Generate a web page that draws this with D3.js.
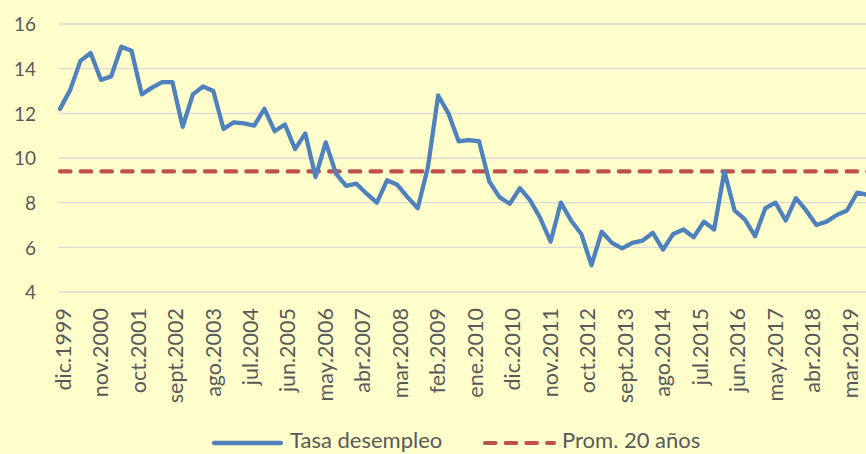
<!DOCTYPE html>
<html>
<head>
<meta charset="utf-8">
<script src="https://cdn.jsdelivr.net/npm/d3@7"></script>
<style>
  body { margin: 0; background: #FFFFCC; }
  svg { display: block; }
</style>
</head>
<body>
<div id="chart"></div>
<script>
// tasa de desempleo trimestral, desde dic.1999 (cada 3 meses)
var tasaDesempleo = [
  12.2, 13.05, 14.35, 14.7, 13.5, 13.65, 14.98, 14.8, 12.85, 13.15,
  13.4, 13.4, 11.4, 12.85, 13.2, 13.0, 11.3, 11.6, 11.55, 11.45,
  12.2, 11.2, 11.5, 10.4, 11.1, 9.15, 10.7, 9.3, 8.75, 8.85,
  8.4, 8.0, 9.0, 8.8, 8.25, 7.75, 9.6, 12.8, 12.0, 10.75,
  10.8, 10.75, 8.95, 8.25, 7.95, 8.65, 8.1, 7.3, 6.25, 8.0,
  7.2, 6.6, 5.2, 6.7, 6.2, 5.95, 6.2, 6.3, 6.65, 5.9,
  6.6, 6.8, 6.45, 7.15, 6.8, 9.4, 7.65, 7.25, 6.5, 7.75,
  8.0, 7.2, 8.2, 7.65, 7.0, 7.15, 7.45, 7.65, 8.45, 8.35
];
var promedio20 = 9.4;

// etiquetas del eje x (una cada 11 meses)
var tickLabels = [
  "dic.1999", "nov.2000", "oct.2001", "sept.2002", "ago.2003", "jul.2004",
  "jun.2005", "may.2006", "abr.2007", "mar.2008", "feb.2009", "ene.2010",
  "dic.2010", "nov.2011", "oct.2012", "sept.2013", "ago.2014", "jul.2015",
  "jun.2016", "may.2017", "abr.2018", "mar.2019"
];
var yTicks = [4, 6, 8, 10, 12, 14, 16];
var seriesNames = ["Tasa desempleo", "Prom. 20 años"];

const width = 866
const height = 454
const font = "Lato, 'DejaVu Sans', sans-serif"

const svg = d3.select("#chart")
  .append("svg")
  .attr("width", width)
  .attr("height", height)

svg.append("rect")
  .attr("width", width)
  .attr("height", height)
  .attr("fill", "#FFFFCC")

// eje x en meses desde dic.1999
const pxPerMonth = 3.407
const x = d3.scaleLinear()
  .domain([0, 240])
  .range([60, 60 + 240 * pxPerMonth])

const y = d3.scaleLinear()
  .domain([4, 16])
  .range([292, 24])

// grid lines
svg.append("g")
  .selectAll("line")
  .data(yTicks)
  .join("line")
  .attr("x1", x(0) - 1.5)
  .attr("x2", width)
  .attr("y1", d => y(d))
  .attr("y2", d => y(d))
  .attr("stroke", "#D9D9D9")
  .attr("stroke-width", 1.4)

// y axis
const yAxis = svg.append("g")
  .attr("transform", `translate(${x(0) - 24},0)`)
  .call(d3.axisLeft(y).tickValues(yTicks).tickSize(0).tickPadding(0))
yAxis.select(".domain").remove()
yAxis.selectAll("text")
  .attr("font-family", font)
  .attr("font-size", 19)
  .attr("fill", "#595959")
  .attr("dy", "0.36em")

// x axis
const xAxis = svg.append("g")
  .attr("transform", `translate(0,${y(4)})`)
  .call(d3.axisBottom(x)
    .tickValues(tickLabels.map((d, i) => i * 11))
    .tickFormat((d, i) => tickLabels[i])
    .tickSize(0))
xAxis.select(".domain").remove()
xAxis.selectAll("text")
  .attr("font-family", font)
  .attr("font-size", 21.5)
  .attr("fill", "#595959")
  .attr("text-anchor", "end")
  .attr("y", 0)
  .attr("dy", "0.47em")
  .attr("transform", "translate(0,16) rotate(-90)")

// average line
svg.append("line")
  .attr("x1", x(0))
  .attr("x2", width + 10)
  .attr("y1", y(promedio20))
  .attr("y2", y(promedio20))
  .attr("stroke", "#C0504D")
  .attr("stroke-width", 4.2)
  .attr("stroke-linecap", "round")
  .attr("stroke-dasharray", "10.5 10.2")

// main series
const line = d3.line()
  .x((d, i) => x(i * 3))
  .y(d => y(d))

svg.append("path")
  .datum(tasaDesempleo)
  .attr("d", line)
  .attr("fill", "none")
  .attr("stroke", "#4F81BD")
  .attr("stroke-width", 4.3)
  .attr("stroke-linejoin", "round")
  .attr("stroke-linecap", "round")

// legend
const legend = svg.append("g")
legend.append("line")
  .attr("x1", 214).attr("x2", 281)
  .attr("y1", 443).attr("y2", 443)
  .attr("stroke", "#4F81BD")
  .attr("stroke-width", 4.3)
  .attr("stroke-linecap", "round")
legend.append("text")
  .attr("x", 290).attr("y", 448)
  .attr("font-family", font)
  .attr("font-size", 22)
  .attr("fill", "#595959")
  .text(seriesNames[0])
legend.append("line")
  .attr("x1", 485).attr("x2", 554)
  .attr("y1", 443).attr("y2", 443)
  .attr("stroke", "#C0504D")
  .attr("stroke-width", 4.2)
  .attr("stroke-linecap", "round")
  .attr("stroke-dasharray", "10.5 10.2")
legend.append("text")
  .attr("x", 562).attr("y", 448)
  .attr("font-family", font)
  .attr("font-size", 22)
  .attr("fill", "#595959")
  .text(seriesNames[1])
</script>
</body>
</html>
